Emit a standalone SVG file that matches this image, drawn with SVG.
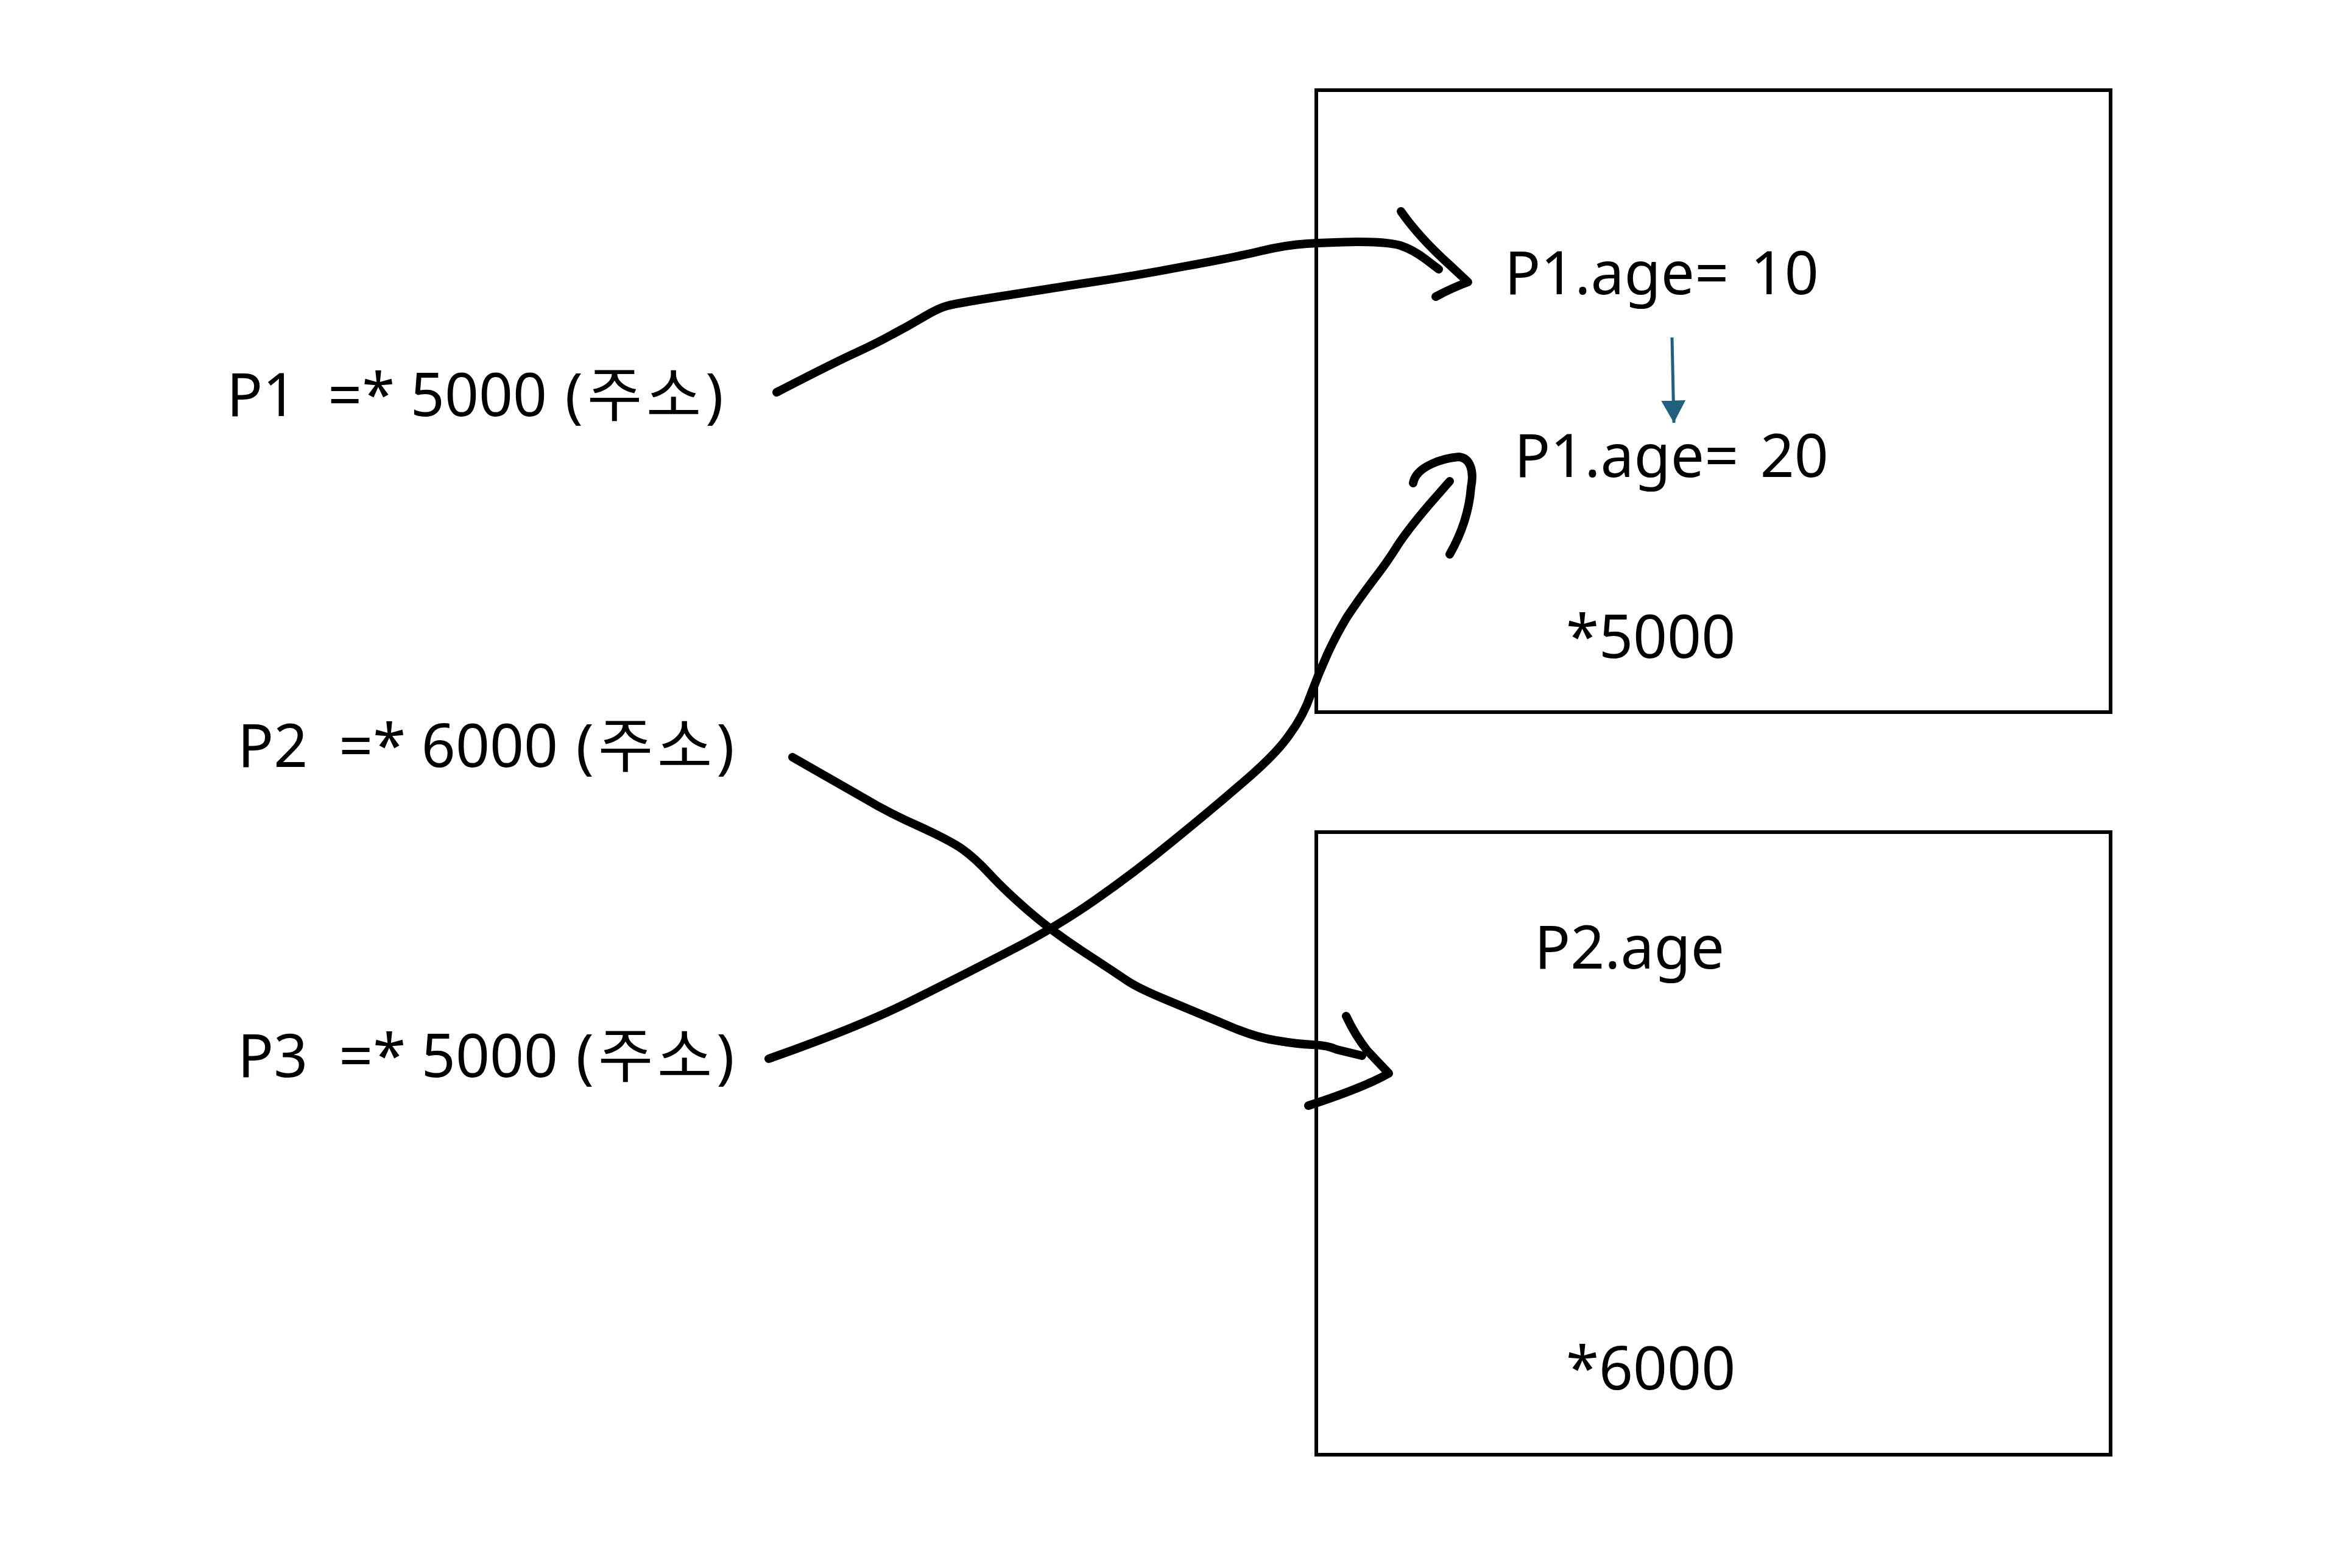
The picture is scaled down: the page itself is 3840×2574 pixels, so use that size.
<svg xmlns="http://www.w3.org/2000/svg" width="3840" height="2574" viewBox="0 0 3840 2574">
  <style>
    .t { font-family: "Noto Sans", "Noto Sans CJK KR", sans-serif; font-size: 98px; fill: #000; white-space: pre; }
    .ko { letter-spacing: 7px; }
    .box { fill: none; stroke: #000; stroke-width: 6; }
    .ink { fill: none; stroke: #000; stroke-width: 14; stroke-linecap: round; stroke-linejoin: round; }
    .blue { fill: none; stroke: #21607f; stroke-width: 5; }
  </style>
  <defs>
    <marker id="blueHead" markerUnits="userSpaceOnUse" markerWidth="40" markerHeight="40" refX="31" refY="17" orient="auto" viewBox="0 0 34 34">
      <polygon points="0,0 31,17 0,34" fill="#21607f"/>
    </marker>
  </defs>
  <rect width="3840" height="2574" fill="#fff"/>

  <g id="p1-label"><text class="t" x="372" y="683">P1  =* 5000 <tspan class="ko" dx="4">(주소)</tspan></text></g>
  <g id="p2-label"><text class="t" x="390" y="1259">P2  =* 6000 <tspan class="ko" dx="4">(주소)</tspan></text></g>
  <g id="p3-label"><text class="t" x="390" y="1768">P3  =* 5000 <tspan class="ko" dx="4">(주소)</tspan></text></g>

  <g id="mem-5000">
    <rect class="box" x="2161" y="148" width="1304" height="1021"/>
    <text class="t" x="2470" y="483">P1.age= <tspan dx="10">10</tspan></text>
    <text class="t" x="2486" y="783">P1.age= <tspan dx="10">20</tspan></text>
    <text class="t" x="2571" y="1080">*5000</text>
  </g>

  <g id="mem-6000">
    <rect class="box" x="2161" y="1366" width="1304" height="1022"/>
    <text class="t" x="2519" y="1590">P2.age</text>
    <text class="t" x="2571" y="2281">*6000</text>
  </g>

  <g id="connectors">
    <path id="p1-to-5000" class="ink" d="M1275,644 Q1366,597 1403,580 Q1440,563 1465,549 Q1490,536 1515,521 Q1540,506 1555,502 Q1570,498 1633,488 Q1697,478 1780,465 Q1863,453 1946,437 Q2029,422 2070,412 Q2112,402 2146,400 Q2180,398 2229,397 Q2278,397 2299,403 Q2320,410 2341,426 L2362,442"/>
    <path class="ink" d="M2300,347 Q2330,390 2380,435 L2410,463 Q2385,472 2357,487"/>

    <path id="p3-to-5000" class="ink" d="M1262,1738 Q1407,1687 1490,1646 Q1573,1605 1652,1564 Q1731,1524 1797,1478 Q1863,1432 1925,1381 Q1988,1330 2041,1284 Q2095,1238 2117,1206 Q2140,1175 2152,1140 Q2165,1105 2180,1072 Q2195,1040 2212,1012 Q2230,985 2254,953 Q2278,922 2294,896 Q2311,870 2345,830 L2380,790"/>
    <path class="ink" d="M2320,793 C2325,765 2370,752 2395,750 C2415,752 2420,775 2415,800 C2412,840 2400,875 2380,910"/>

    <path id="p2-to-6000" class="ink" d="M1301,1243 Q1380,1288 1420,1311 Q1460,1335 1510,1357 Q1560,1380 1580,1394 Q1600,1408 1625,1435 Q1650,1462 1688,1495 Q1726,1528 1778,1562 Q1830,1596 1849,1609 Q1868,1622 1914,1641 Q1960,1660 2010,1681 Q2060,1703 2095,1708 Q2130,1714 2155,1715 Q2180,1716 2195,1723 L2236,1733"/>
    <path class="ink" d="M2210,1668 Q2225,1700 2245,1725 L2280,1762 Q2240,1785 2148,1815"/>

    <line id="age-update" class="blue" x1="2745" y1="554" x2="2748" y2="694" marker-end="url(#blueHead)"/>
  </g>
</svg>
